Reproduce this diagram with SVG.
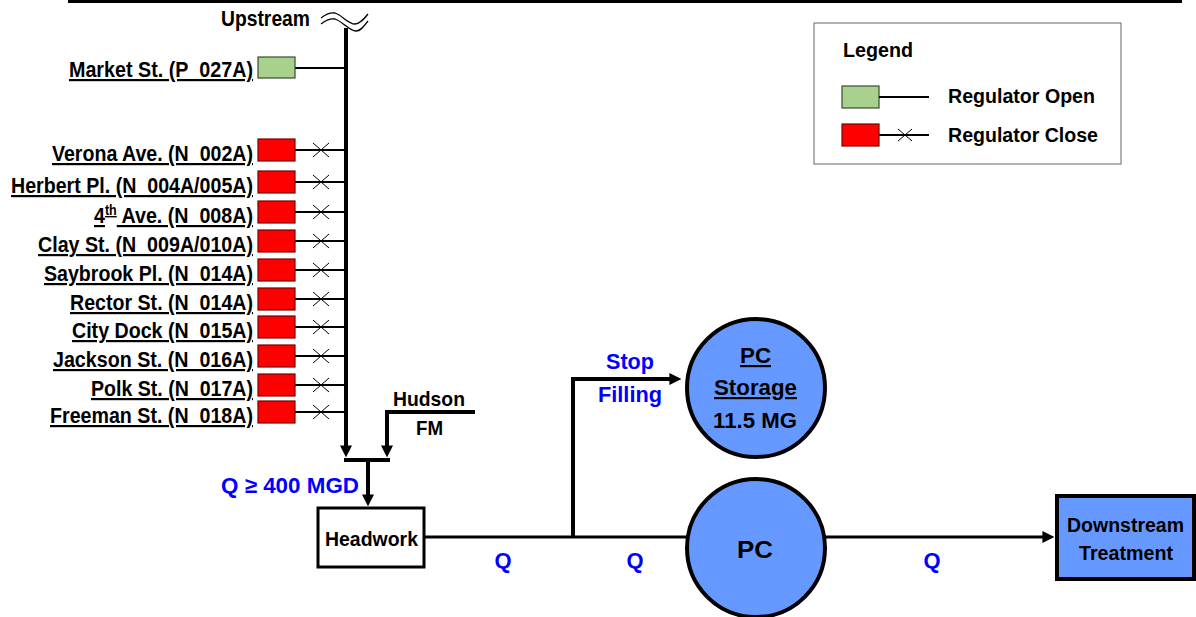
<svg xmlns="http://www.w3.org/2000/svg" width="1196" height="617" viewBox="0 0 1196 617">
<defs>
<style>
text{font-family:"Liberation Sans",Arial,sans-serif;font-weight:bold;fill:#000}
.lbl{font-size:22px;text-anchor:end;text-decoration:underline}
.blue{fill:#0000FF}
.mid{text-anchor:middle}
.open{fill:#A9D18E;stroke:#3A4A30;stroke-width:1.2}
.close{fill:#FF0000;stroke:#7A0000;stroke-width:1.2}
.thin{stroke:#000;stroke-width:2;fill:none}
.x{stroke:#000;stroke-width:1;fill:none}
.thick{stroke:#000;stroke-width:4;fill:none}
.flow{stroke:#000;stroke-width:3;fill:none}
.node{fill:#6699FF;stroke:#000;stroke-width:4}
.wave{fill:none;stroke:#000;stroke-width:1.3}
</style>
<marker id="arr" viewBox="0 0 10 10" refX="3" refY="5" markerWidth="12" markerHeight="12" markerUnits="userSpaceOnUse" orient="auto">
<path d="M0,0 L10,5 L0,10 z" fill="#000"/>
</marker>
</defs>
<rect width="1196" height="617" fill="#fff"/>
<line x1="68" y1="1.5" x2="1182" y2="1.5" stroke="#000" stroke-width="3"/>

<g id="connectors">
<path class="thick" d="M346,28 V449" marker-end="url(#arr)"/>
<path class="thick" d="M475,412 H387 V449" marker-end="url(#arr)"/>
<path class="thick" d="M344,460 H390"/>
<path class="thick" d="M368,460 V498" marker-end="url(#arr)"/>
<path class="flow" d="M424,537 H686"/>
<path class="thick" d="M573,537 V379 H673" marker-end="url(#arr)"/>
<path class="flow" d="M826,537 H1046" marker-end="url(#arr)"/>
<path class="thin" d="M295,68 H346"/>
<g id="closed-lines">
<path class="thin" d="M295,150 H346 M295,182 H346 M295,212 H346 M295,241 H346 M295,270 H346 M295,299 H346 M295,327 H346 M295,356 H346 M295,385 H346 M295,412 H346"/>
<path class="x" d="M313,143 l16,14 m0,-14 l-16,14 M313,175 l16,14 m0,-14 l-16,14 M313,205 l16,14 m0,-14 l-16,14 M313,234 l16,14 m0,-14 l-16,14 M313,263 l16,14 m0,-14 l-16,14 M313,292 l16,14 m0,-14 l-16,14 M313,320 l16,14 m0,-14 l-16,14 M313,349 l16,14 m0,-14 l-16,14 M313,378 l16,14 m0,-14 l-16,14 M313,405 l16,14 m0,-14 l-16,14"/>
</g>
</g>

<g id="upstream">
<text x="221" y="26" font-size="22" textLength="89" lengthAdjust="spacingAndGlyphs">Upstream</text>
<path class="wave" d="M321,18 C326,14 330,12 335,13 C342,15 348,24 355,24 C360,24 364,19 368,14"/>
<path class="wave" d="M321,24 C326,20 330,18 335,19 C342,21 349,31 356,31 C361,31 364,26 368,21"/>
</g>

<g id="market"><rect class="open" x="258" y="57" width="37" height="21"/><text class="lbl" x="253" y="77" textLength="184" lengthAdjust="spacingAndGlyphs">Market St. (P_027A)</text></g>
<g id="verona"><rect class="close" x="258" y="139" width="37" height="22"/><text class="lbl" x="253" y="161" textLength="201" lengthAdjust="spacingAndGlyphs">Verona Ave. (N_002A)</text></g>
<g id="herbert"><rect class="close" x="258" y="171" width="37" height="22"/><text class="lbl" x="253" y="193" textLength="242" lengthAdjust="spacingAndGlyphs">Herbert Pl. (N_004A/005A)</text></g>
<g id="fourth"><rect class="close" x="258" y="201" width="37" height="22"/><text class="lbl" x="253" y="223" textLength="159" lengthAdjust="spacingAndGlyphs">4<tspan font-size="14" dy="-8">th</tspan><tspan dy="8"> Ave. (N_008A)</tspan></text></g>
<g id="clay"><rect class="close" x="258" y="230" width="37" height="22"/><text class="lbl" x="253" y="252" textLength="215" lengthAdjust="spacingAndGlyphs">Clay St. (N_009A/010A)</text></g>
<g id="saybrook"><rect class="close" x="258" y="259" width="37" height="22"/><text class="lbl" x="253" y="281" textLength="209" lengthAdjust="spacingAndGlyphs">Saybrook Pl. (N_014A)</text></g>
<g id="rector"><rect class="close" x="258" y="288" width="37" height="22"/><text class="lbl" x="253" y="310" textLength="183" lengthAdjust="spacingAndGlyphs">Rector St. (N_014A)</text></g>
<g id="citydock"><rect class="close" x="258" y="316" width="37" height="22"/><text class="lbl" x="253" y="338" textLength="181" lengthAdjust="spacingAndGlyphs">City Dock (N_015A)</text></g>
<g id="jackson"><rect class="close" x="258" y="345" width="37" height="22"/><text class="lbl" x="253" y="367" textLength="200" lengthAdjust="spacingAndGlyphs">Jackson St. (N_016A)</text></g>
<g id="polk"><rect class="close" x="258" y="374" width="37" height="22"/><text class="lbl" x="253" y="396" textLength="162" lengthAdjust="spacingAndGlyphs">Polk St. (N_017A)</text></g>
<g id="freeman"><rect class="close" x="258" y="401" width="37" height="22"/><text class="lbl" x="253" y="423" textLength="203" lengthAdjust="spacingAndGlyphs">Freeman St. (N_018A)</text></g>

<g id="hudson">
<text x="393" y="406" font-size="21" textLength="72" lengthAdjust="spacingAndGlyphs">Hudson</text>
<text x="416" y="435" font-size="21" textLength="27" lengthAdjust="spacingAndGlyphs">FM</text>
</g>

<text class="blue" x="221" y="493" font-size="22" textLength="138" lengthAdjust="spacingAndGlyphs">Q ≥ 400 MGD</text>

<g id="headwork">
<rect x="318" y="508" width="106" height="59" fill="#fff" stroke="#000" stroke-width="3"/>
<text x="325" y="546" font-size="20" textLength="93" lengthAdjust="spacingAndGlyphs">Headwork</text>
</g>

<g id="q-labels">
<text class="blue mid" x="503" y="568" font-size="22">Q</text>
<text class="blue mid" x="635" y="568" font-size="22">Q</text>
<text class="blue mid" x="932" y="568" font-size="22">Q</text>
<text class="blue" x="606" y="369" font-size="22" textLength="48" lengthAdjust="spacingAndGlyphs">Stop</text>
<text class="blue" x="598" y="402" font-size="22" textLength="64" lengthAdjust="spacingAndGlyphs">Filling</text>
</g>

<g id="pc-storage">
<circle class="node" cx="756" cy="388" r="69"/>
<text x="740" y="363" font-size="22" text-decoration="underline" textLength="31" lengthAdjust="spacingAndGlyphs">PC</text>
<text x="714" y="395" font-size="22" text-decoration="underline" textLength="83" lengthAdjust="spacingAndGlyphs">Storage</text>
<text x="713" y="428" font-size="22" textLength="84" lengthAdjust="spacingAndGlyphs">11.5 MG</text>
</g>

<g id="pc">
<circle class="node" cx="756" cy="548" r="69"/>
<text x="737" y="558" font-size="24" textLength="36" lengthAdjust="spacingAndGlyphs">PC</text>
</g>

<g id="downstream">
<rect class="node" x="1057" y="496" width="137" height="83"/>
<text x="1067" y="532" font-size="20" textLength="117" lengthAdjust="spacingAndGlyphs">Downstream</text>
<text x="1079" y="560" font-size="20" textLength="94" lengthAdjust="spacingAndGlyphs">Treatment</text>
</g>

<g id="legend">
<rect x="814" y="23" width="307" height="141" fill="#fff" stroke="#666" stroke-width="1"/>
<text x="843" y="57" font-size="20" textLength="70" lengthAdjust="spacingAndGlyphs">Legend</text>
<rect class="open" x="842" y="86" width="37" height="22"/>
<path class="thin" d="M879,97 H929 M879,135 H929"/>
<rect class="close" x="842" y="124" width="37" height="22"/>
<path class="x" d="M898,129 l14,12 m0,-12 l-14,12"/>
<text x="948" y="103" font-size="21" textLength="147" lengthAdjust="spacingAndGlyphs">Regulator Open</text>
<text x="948" y="142" font-size="21" textLength="150" lengthAdjust="spacingAndGlyphs">Regulator Close</text>
</g>
</svg>
